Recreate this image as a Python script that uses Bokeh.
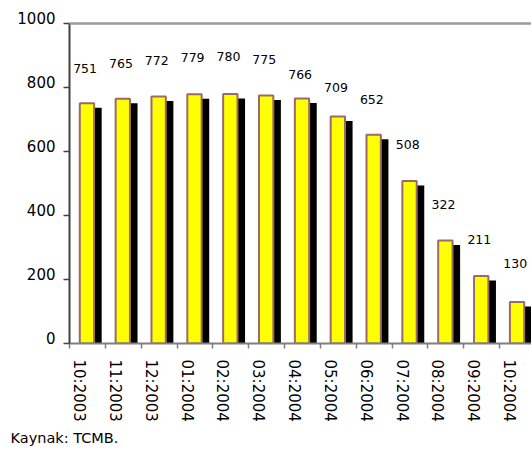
from bokeh.plotting import figure
from bokeh.models import (Range1d, FixedTicker, Span, ColumnDataSource, LinearAxis,
                          Title)
from bokeh.embed import file_html
from bokeh.resources import INLINE
from bokeh.core.properties import value

# ---- data ----
months = ["10:2003", "11:2003", "12:2003", "01:2004", "02:2004", "03:2004", "04:2004",
          "05:2004", "06:2004", "07:2004", "08:2004", "09:2004", "10:2004"]
values = [751, 765, 772, 779, 780, 775, 766, 709, 652, 508, 322, 211, 130]
y_ticks = [0, 200, 400, 600, 800, 1000]
source_note = "Kaynak: TCMB."

# ---- styles / layout ----
label_lift_px = [35, 35, 36, 37, 37, 36, 24, 29, 35, 36, 36, 36, 38]
FONT = "DejaVu Sans"
W, H = 531, 450
ML, MR, MT, MB = 69, 0, 12, 107
X_END = 12.89
Y_TOP = 1000
PX_Y = 1000.0 / 320              # data units per pixel (y), 0..1000 spans 320 px
frame_w = W - ML - MR
frame_h = H - MT - MB
PX_X = X_END / frame_w           # data units per pixel (x)
Y_END = frame_h * PX_Y           # a little headroom above 1000 for the top tick label

n = len(values)
idx = list(range(n))

p = figure(width=W, height=H, output_backend="svg", toolbar_location=None,
           x_range=Range1d(0, X_END), y_range=Range1d(0, Y_END),
           min_border_left=ML, min_border_right=MR, min_border_top=MT, min_border_bottom=MB)
p.background_fill_color = "white"
p.border_fill_color = "white"
p.outline_line_color = None
p.xgrid.visible = False
p.ygrid.visible = False

src = ColumnDataSource(dict(
    x_bar=[i + 0.487 for i in idx],
    x_sh=[i + 0.676 for i in idx],
    x_lab=[i + 0.435 for i in idx],
    top=values,
    sh_top=[v - 4.5 * PX_Y for v in values],
    lab_y=[v + l * PX_Y for v, l in zip(values, label_lift_px)],
    txt=[str(v) for v in values],
))

p.vbar(x="x_sh", top="sh_top", bottom=0, width=0.444, fill_color="black",
       line_color=None, source=src)
p.vbar(x="x_bar", top="top", bottom=0, width=0.40, fill_color="#FFFF00",
       line_color="#9A6A6A", line_width=2, source=src)
p.text(x="x_lab", y="lab_y", text="txt", text_align="center", text_baseline="middle",
       text_font=value(FONT), text_font_size="12.5px", text_color="black", source=src)

p.add_layout(Span(location=Y_TOP, dimension="width", line_color="#9A9A9A", line_width=2.5))

# main y axis: line + ticks only
p.yaxis.ticker = FixedTicker(ticks=y_ticks)
p.yaxis.bounds = (0, Y_TOP)
p.yaxis.axis_line_color = "#404040"
p.yaxis.axis_line_width = 2
p.yaxis.major_tick_line_color = "#404040"
p.yaxis.major_tick_line_width = 1.5
p.yaxis.major_tick_out = 6
p.yaxis.major_tick_in = 0
p.yaxis.minor_tick_line_color = None
p.yaxis.major_label_text_color = None
p.yaxis.major_label_text_font_size = "1px"
p.yaxis.major_label_standoff = 0

# y tick labels: separate axis, nudged up so digits sit on the tick
lift = 5.3 * PX_Y
p.extra_y_ranges = {"ylab": Range1d(-lift, Y_END - lift)}
ylab = LinearAxis(y_range_name="ylab", ticker=FixedTicker(ticks=y_ticks))
ylab.axis_line_color = None
ylab.major_tick_line_color = None
ylab.minor_tick_line_color = None
ylab.major_tick_out = 0
ylab.major_tick_in = 0
ylab.major_label_standoff = 8
ylab.major_label_text_font = FONT
ylab.major_label_text_font_size = "15px"
ylab.major_label_text_color = "black"
p.add_layout(ylab, "left")

# main x axis: line + ticks at category boundaries
p.xaxis.ticker = FixedTicker(ticks=idx)
p.xaxis.axis_line_color = "#808080"
p.xaxis.axis_line_width = 2
p.xaxis.major_tick_line_color = "#808080"
p.xaxis.major_tick_line_width = 1.5
p.xaxis.major_tick_out = 5
p.xaxis.major_tick_in = 0
p.xaxis.minor_tick_line_color = None
p.xaxis.major_label_text_color = None
p.xaxis.major_label_text_font_size = "1px"
p.xaxis.major_label_standoff = 0

# x category labels: separate axis shifted to label positions
shift = 0.265
p.extra_x_ranges = {"xlab": Range1d(-shift, X_END - shift)}
xlab = LinearAxis(x_range_name="xlab", ticker=FixedTicker(ticks=idx))
xlab.major_label_overrides = {i: m for i, m in zip(idx, months)}
xlab.major_label_orientation = "vertical"
xlab.axis_line_color = None
xlab.major_tick_line_color = None
xlab.minor_tick_line_color = None
xlab.major_tick_out = 0
xlab.major_tick_in = 0
xlab.major_label_standoff = 11
xlab.major_label_text_font = FONT
xlab.major_label_text_font_size = "15px"
xlab.major_label_text_color = "black"
p.add_layout(xlab, "below")

note = Title(text=source_note, align="left", offset=-59, text_font=FONT,
             text_font_size="14.5px", text_font_style="normal", text_color="black",
             standoff=6)
p.add_layout(note, "below")

open("out.html", "w").write(file_html(p, INLINE))
